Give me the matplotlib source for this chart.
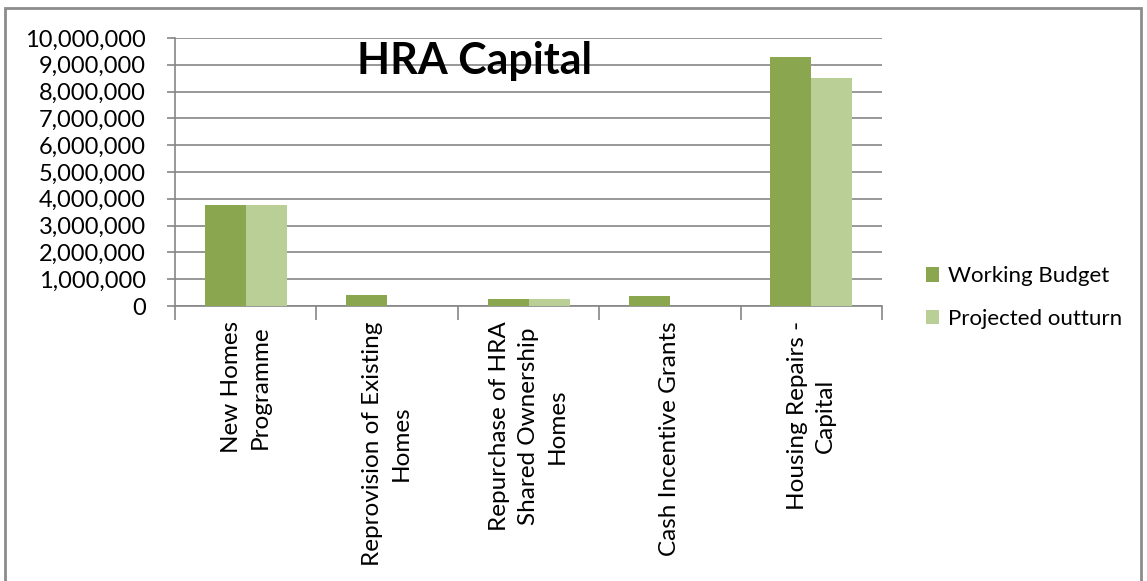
import numpy as np
import matplotlib.pyplot as plt
from matplotlib.patches import Rectangle
from matplotlib.ticker import FuncFormatter

plt.rcParams.update({
    "font.family": ["Lato", "DejaVu Sans"],
    "font.size": 16,
})

# Data
categories = [
    "New Homes\nProgramme",
    "Reprovision of Existing\nHomes",
    "Repurchase of HRA\nShared Ownership\nHomes",
    "Cash Incentive Grants",
    "Housing Repairs -\nCapital",
]
working_budget = [3770000, 410000, 260000, 370000, 9300000]
projected_outturn = [3770000, 0, 260000, 0, 8500000]
series_names = ["Working Budget", "Projected outturn"]
colors = ["#8AA64F", "#BACF95"]

fig = plt.figure(figsize=(11.47, 5.81), dpi=100)
ax = fig.add_axes([0.1526, 0.4733, 0.6164, 0.4613])

x = np.arange(len(categories))
w = 0.29
b1 = ax.bar(x - w / 2, working_budget, w, color=colors[0], label=series_names[0], zorder=3)
b2 = ax.bar(x + w / 2, projected_outturn, w, color=colors[1], label=series_names[1], zorder=3)

ax.set_xlim(-0.5, len(categories) - 0.5)
ax.set_ylim(0, 10000000)
ax.set_yticks(np.arange(0, 10000001, 1000000))
ax.yaxis.set_major_formatter(FuncFormatter(lambda v, p: f"{int(v):,}"))

grid_col = "#868686"
ax.grid(axis="y", color=grid_col, linewidth=1.2, zorder=0)
for s in ["top", "right"]:
    ax.spines[s].set_visible(False)
for s in ["left", "bottom"]:
    ax.spines[s].set_color(grid_col)
    ax.spines[s].set_linewidth(1.2)

ax.tick_params(axis="y", length=6, color=grid_col, width=1.2, pad=15, labelsize=17)

# category labels centred, boundary ticks as minor ticks
ax.set_xticks(x)
ax.set_xticklabels(categories, rotation=90, va="top", ha="center",
                   multialignment="center", linespacing=1.45, fontsize=17.5)
ax.tick_params(axis="x", which="major", length=0, pad=11)
ax.set_xticks(np.arange(-0.5, len(categories), 1), minor=True)
ax.tick_params(axis="x", which="minor", length=10, color=grid_col, width=1.2)

ax.text(0.424, 0.915, "HRA Capital", transform=ax.transAxes, ha="center", va="center",
        fontsize=31, fontweight="bold")

fig.legend(handles=[b1, b2], loc="center left", bbox_to_anchor=(0.79, 0.488),
           frameon=False, fontsize=16, handlelength=0.6, handleheight=0.6,
           labelspacing=1.0, handletextpad=0.4)

# outer chart border
fig.patches.append(Rectangle((5 / 1147, -0.1), 1136 / 1147, 1.1 - 8 / 581,
                             transform=fig.transFigure, fill=False,
                             edgecolor="#8C8C8C", linewidth=2))

plt.savefig("out.png", dpi=100)
